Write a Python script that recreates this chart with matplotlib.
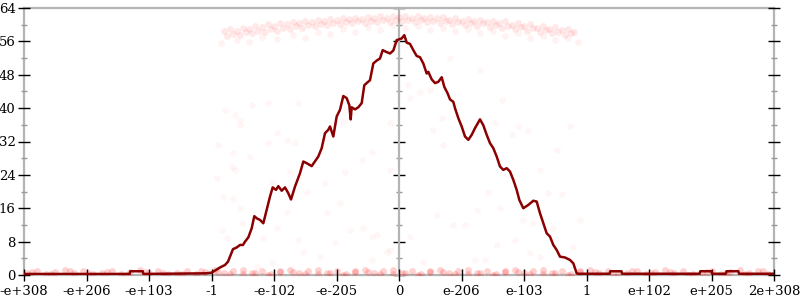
import matplotlib
matplotlib.use("Agg")
import matplotlib.pyplot as plt
from matplotlib.ticker import MultipleLocator

# x positions are in "tick units": each step is one labelled flonum landmark
tick_labels = ['-e+308', '-e+206', '-e+103', '-1', '-e-102', '-e-205', '0',
               'e-206', 'e-103', '1', 'e+102', 'e+205', '2e+308']
tick_pos = [-6, -5, -4, -3, -2, -1, 0, 1, 2, 3, 4, 5, 6]

# traced count curve
line_x = [-6.0, -4.31, -4.30, -4.10, -4.09, -3.10, -3.00,
          -2.864, -2.784, -2.736, -2.656, -2.597, -2.544, -2.496, -2.464, -2.411,
          -2.357, -2.315, -2.277, -2.224, -2.171, -2.117, -2.064, -2.021, -1.968,
          -1.931, -1.877, -1.824, -1.771, -1.728, -1.664, -1.584, -1.531, -1.477,
          -1.397, -1.328, -1.291, -1.237, -1.184, -1.131, -1.104, -1.051, -0.997,
          -0.944, -0.891, -0.837, -0.795, -0.773, -0.757, -0.704, -0.651, -0.597,
          -0.555, -0.517, -0.464, -0.411, -0.357, -0.304, -0.261, -0.208, -0.144,
          -0.091, -0.037, 0.005, 0.043, 0.085, 0.123, 0.176, 0.229, 0.283, 0.336,
          0.389, 0.443, 0.469, 0.523, 0.576, 0.629, 0.683, 0.725, 0.779, 0.816,
          0.869, 0.896, 0.949, 1.003, 1.056, 1.109, 1.163, 1.216, 1.296, 1.349,
          1.403, 1.456, 1.509, 1.563, 1.616, 1.669, 1.723, 1.776, 1.829, 1.883,
          1.925, 1.989, 2.069, 2.149, 2.203, 2.256, 2.309, 2.363, 2.416, 2.469,
          2.523, 2.576, 2.656, 2.736, 2.789, 2.843, 2.86,
          3.37, 3.38, 3.56, 3.57, 4.81, 4.82, 5.00, 5.01, 5.23, 5.24, 5.43, 5.44, 6.0]
line_y = [0.25, 0.25, 0.9, 0.9, 0.25, 0.4, 0.55,
          1.8, 2.4, 3.2, 6.2, 6.6, 7.2, 7.2, 8.0, 9.0,
          11.2, 14.1, 13.6, 13.2, 12.4, 15.6, 18.8, 21.0, 20.4,
          21.3, 20.2, 21.0, 19.6, 18.1, 21.2, 24.4, 27.2, 26.8,
          26.1, 27.6, 28.4, 30.4, 34.0, 34.8, 35.6, 33.2, 38.0,
          39.6, 42.9, 42.4, 40.7, 37.3, 40.2, 39.7, 40.2, 41.2,
          45.5, 46.0, 46.7, 50.7, 51.4, 51.9, 53.9, 53.5, 53.1,
          53.8, 56.3, 56.5, 56.7, 57.5, 55.7, 55.4, 53.9, 52.5, 52.2,
          50.7, 48.3, 48.7, 46.9, 46.0, 46.3, 47.4, 45.1, 43.5, 42.1,
          41.5, 40.0, 37.6, 35.6, 33.2, 32.4, 33.6, 35.2, 37.3, 35.9,
          33.6, 31.6, 30.4, 28.4, 26.0, 25.2, 25.6, 24.8, 22.8, 20.4,
          18.0, 16.0, 16.8, 17.8, 17.6, 14.8, 12.4, 10.0, 9.2, 7.2,
          6.0, 4.4, 4.2, 3.6, 2.8, 0.4, 0.3,
          0.3, 0.9, 0.9, 0.3, 0.3, 0.9, 0.9, 0.3, 0.3, 0.9, 0.9, 0.3, 0.3]

# dense cloud of samples near the top
top_x = [-2.8, -2.7, -2.6, -2.5, -2.4, -2.3, -2.2, -2.1, -2.0, -1.9, -1.8, -1.7,
         -1.6, -1.5, -1.4, -1.3, -1.2, -1.1, -1.0, -0.9, -0.8, -0.7, -0.6, -0.5,
         -0.4, -0.3, -0.2, -0.1, 0.0, 0.1, 0.2, 0.3, 0.4, 0.5, 0.6, 0.7, 0.8, 0.9,
         1.0, 1.1, 1.2, 1.3, 1.4, 1.5, 1.6, 1.7, 1.8, 1.9, 2.0, 2.1, 2.2, 2.3, 2.4,
         2.5, 2.6, 2.7, 2.8]
top_y = [58.4, 58.9, 58.6, 59.3, 59.0, 59.7, 59.4, 60.1, 59.8, 60.4, 60.1, 60.7,
         60.5, 61.0, 60.7, 61.2, 60.9, 61.4, 61.1, 61.6, 61.3, 61.7, 61.4, 61.9,
         61.6, 62.0, 61.7, 62.1, 61.8, 62.1, 61.6, 62.0, 61.7, 61.8, 61.5, 61.8,
         61.2, 61.6, 61.0, 61.4, 60.8, 61.2, 60.6, 61.0, 60.3, 60.8, 60.0, 60.5,
         59.7, 60.2, 59.3, 59.8, 59.0, 59.4, 58.7, 59.0, 58.3]
mid_x = [-2.75, -2.65, -2.55, -2.45, -2.35, -2.25, -2.15, -2.05, -1.95, -1.85,
         -1.75, -1.65, -1.55, -1.45, -1.35, -1.25, -1.15, -1.05, -0.95, -0.85,
         -0.75, -0.65, -0.55, -0.45, -0.35, -0.25, -0.15, -0.05, 0.05, 0.15, 0.25,
         0.35, 0.45, 0.55, 0.65, 0.75, 0.85, 0.95, 1.05, 1.15, 1.25, 1.35, 1.45,
         1.55, 1.65, 1.75, 1.85, 1.95, 2.05, 2.15, 2.25, 2.35, 2.45, 2.55, 2.65, 2.75]
mid_y = [57.3, 57.8, 57.5, 58.2, 57.9, 58.6, 58.3, 59.0, 58.6, 59.3, 59.0, 59.6,
         59.3, 59.9, 59.6, 60.2, 59.9, 60.4, 60.1, 60.6, 60.3, 60.8, 60.5, 61.0,
         60.6, 61.1, 60.7, 61.2, 60.8, 61.2, 60.7, 61.1, 60.6, 61.0, 60.4, 60.9,
         60.2, 60.7, 60.0, 60.5, 59.8, 60.3, 59.5, 60.0, 59.2, 59.7, 58.9, 59.4,
         58.6, 59.1, 58.3, 58.7, 57.9, 58.3, 57.6, 57.9]
low_x = [-2.85, -2.6, -2.4, -2.2, -1.95, -1.7, -1.5, -1.3, -1.1, -0.9, -0.7, -0.5,
         -0.3, -0.1, 0.1, 0.3, 0.5, 0.7, 0.9, 1.1, 1.3, 1.5, 1.7, 1.9, 2.1, 2.3,
         2.5, 2.7, 2.86]
low_y = [55.6, 56.4, 55.9, 57.0, 56.6, 57.6, 56.9, 58.3, 57.8, 58.9, 58.2, 59.5,
         58.8, 59.9, 59.2, 59.7, 58.7, 59.3, 58.4, 58.9, 57.9, 58.5, 57.4, 58.0,
         56.9, 57.4, 56.3, 56.8, 55.8]

# scattered samples below the cloud
sparse_x = [-2.78, -2.62, -2.54, -2.36, -2.10, -1.62, -1.96, -1.80, -1.66, -2.10,
            -2.66, -2.90, -2.38, -2.68, -2.62, -1.74, -2.92, -2.04, -1.48, -1.18,
            -0.86, -0.44, -0.60, -0.14, -0.14, -0.89, -2.54, -1.16, -0.94, -0.78,
            -0.58, -0.44, -1.02, -0.20, -0.36, 0.18, 0.60, 0.87, 1.06, 1.38, 1.24,
            0.39, -1.26, -1.53, -0.44, -0.14, 0.15, 0.34, 0.50, 0.82, 1.30, 0.18,
            1.64, 0.68, 0.55, 0.71, 1.54, 1.91, 1.80, 2.06, 2.52, 2.74, 2.26, 2.39,
            2.60, 1.43, 1.62, 1.99, 2.15, 2.47, 2.90, 1.22, 1.56, 1.86, 2.10, 2.26,
            2.79, -2.81, -2.65, -2.54, -2.52, -2.84, -2.76, -2.17, -1.96, -1.80,
            -1.61, -2.28, -2.04]
sparse_y = [39.5, 38.4, 37.2, 40.7, 41.2, 41.2, 34.0, 32.4, 31.6, 31.6,
            29.2, 31.2, 28.3, 25.9, 25.2, 24.7, 23.2, 22.0, 19.9, 22.0,
            24.7, 29.5, 27.6, 36.4, 25.2, 36.7, 36.0, 14.8, 17.3, 10.8,
            11.3, 9.2, 8.0, 5.6, 9.6, 9.2, 14.4, 12.0, 12.0, 3.6, 15.6,
            3.2, 4.4, 5.6, 3.6, 6.0, 45.5, 43.9, 44.3, 51.9, 49.1, 42.4,
            41.9, 37.6, 34.8, 31.2, 36.4, 35.6, 33.6, 34.4, 30.0, 35.6, 25.2, 19.6,
            19.4, 20.0, 16.0, 13.2, 12.4, 11.2, 13.2, 3.6, 7.2, 8.4, 5.2, 4.4,
            6.8, 18.8, 18.1, 16.0, 12.5, 10.8, 8.8, 8.8, 11.2, 15.2,
            8.4, 2.0, 2.8]

# samples that land on zero
zero_x = [-5.95, -5.8, -5.65, -5.5, -5.35, -5.2, -5.05, -4.9, -4.75, -4.6, -4.45,
          -4.3, -4.15, -4.0, -3.85, -3.7, -3.55, -3.4, -3.25, -3.1, -2.95, -2.8,
          -2.65, -2.5, -2.35, -2.2, -2.05, -1.9, -1.75, -1.6, -1.45, -1.3, -1.15,
          -1.0, -0.85, -0.7, -0.55, -0.4, -0.25, -0.1, 0.05, 0.2, 0.35, 0.5, 0.65,
          0.8, 0.95, 1.1, 1.25, 1.4, 1.55, 1.7, 1.85, 2.0, 2.15, 2.3, 2.45, 2.6,
          2.75, 2.9, 3.05, 3.2, 3.35, 3.5, 3.65, 3.8, 3.95, 4.1, 4.25, 4.4, 4.55,
          4.7, 4.85, 5.0, 5.15, 5.3, 5.45, 5.6, 5.75, 5.9]
zero_y = [0.4, 1.0, 0.2, 0.7, 1.2, 0.5, 0.9, 0.3, 0.4, 1.0, 0.2, 0.7, 1.2, 0.5,
          0.9, 0.3, 0.4, 1.0, 0.2, 0.7, 1.2, 0.5, 0.9, 0.3, 0.4, 1.0, 0.2, 0.7,
          1.2, 0.5, 0.9, 0.3, 0.4, 1.0, 0.2, 0.7, 1.2, 0.5, 0.9, 0.3, 0.4, 1.0,
          0.2, 0.7, 1.2, 0.5, 0.9, 0.3, 0.4, 1.0, 0.2, 0.7, 1.2, 0.5, 0.9, 0.3,
          0.4, 1.0, 0.2, 0.7, 1.2, 0.5, 0.9, 0.3, 0.4, 1.0, 0.2, 0.7, 1.2, 0.5,
          0.9, 0.3, 0.4, 1.0, 0.2, 0.7, 1.2, 0.5, 0.9, 0.3]
zero2_x = [-5.87, -5.57, -5.27, -4.97, -4.67, -4.37, -4.07, -3.77, -3.47, -3.17,
           -2.9, -2.7, -2.5, -2.3, -2.1, -1.9, -1.7, -1.5, -1.3, -1.1, -0.9, -0.7,
           -0.5, -0.3, -0.1, 0.1, 0.3, 0.5, 0.7, 0.9, 1.1, 1.3, 1.5, 1.7, 1.9, 2.1,
           2.3, 2.5, 2.7, 2.9, 3.13, 3.43, 3.73, 4.03, 4.33, 4.63, 4.93, 5.23,
           5.53, 5.83]
zero2_y = [0.6, 0.2, 0.9, 0.4, 0.7, 0.1, 0.8, 0.5, 0.3, 0.9,
           0.8, 0.3, 1.1, 0.5, 0.1, 0.9, 0.8, 0.3, 1.1, 0.5, 0.1, 0.9, 0.8, 0.3,
           1.1, 0.5, 0.1, 0.9, 0.8, 0.3, 1.1, 0.5, 0.1, 0.9, 0.8, 0.3, 1.1, 0.5,
           0.1, 0.9, 0.6, 0.2, 0.9, 0.4, 0.7, 0.1, 0.8, 0.5, 0.3, 0.9]

plt.rcParams['font.family'] = 'DejaVu Serif'
plt.rcParams['font.size'] = 9.5

GRAY = '#b4b4b4'

fig = plt.figure(figsize=(8, 3), dpi=100)
ax = fig.add_axes([24 / 800, 25 / 300, 750 / 800, 267 / 300])

pt = dict(s=24, color='red', linewidths=0, zorder=2)
ax.scatter(top_x, top_y, alpha=0.09, **pt)
ax.scatter(mid_x, mid_y, alpha=0.09, **pt)
ax.scatter(low_x, low_y, alpha=0.05, **pt)
ax.scatter(sparse_x, sparse_y, alpha=0.035, **pt)
ax.scatter(zero_x, zero_y, alpha=0.18, **pt)
ax.scatter(zero2_x, zero2_y, alpha=0.18, **pt)

ax.plot(line_x, line_y, color='#8b0000', lw=1.8, zorder=3)

ax.set_xlim(-6, 6)
ax.set_ylim(0, 64)
ax.set_xticks(tick_pos)
ax.set_xticklabels(tick_labels)
ax.yaxis.set_major_locator(MultipleLocator(8))
ax.yaxis.set_minor_locator(MultipleLocator(4))

for s in ax.spines.values():
    s.set_color(GRAY)
    s.set_linewidth(1.6)
    s.set_zorder(1)

ax.tick_params(axis='x', direction='inout', length=8, width=1, color='black', pad=3)
ax.tick_params(axis='y', which='major', direction='inout', length=8, width=1,
               color='black', pad=2, right=True)
ax.tick_params(axis='y', which='minor', direction='inout', length=4, width=1,
               color='#999999', right=True)

# centre axis through zero
mid = ax.secondary_yaxis(0.5)
mid.yaxis.set_major_locator(MultipleLocator(8))
mid.yaxis.set_minor_locator(MultipleLocator(4))
mid.tick_params(which='major', direction='inout', length=8, width=1, color='black',
                labelleft=False, labelright=False)
mid.tick_params(which='minor', direction='inout', length=4, width=1, color='#999999')
for s in mid.spines.values():
    s.set_color(GRAY)
    s.set_linewidth(1.6)

fig.savefig('out.png', dpi=100)
